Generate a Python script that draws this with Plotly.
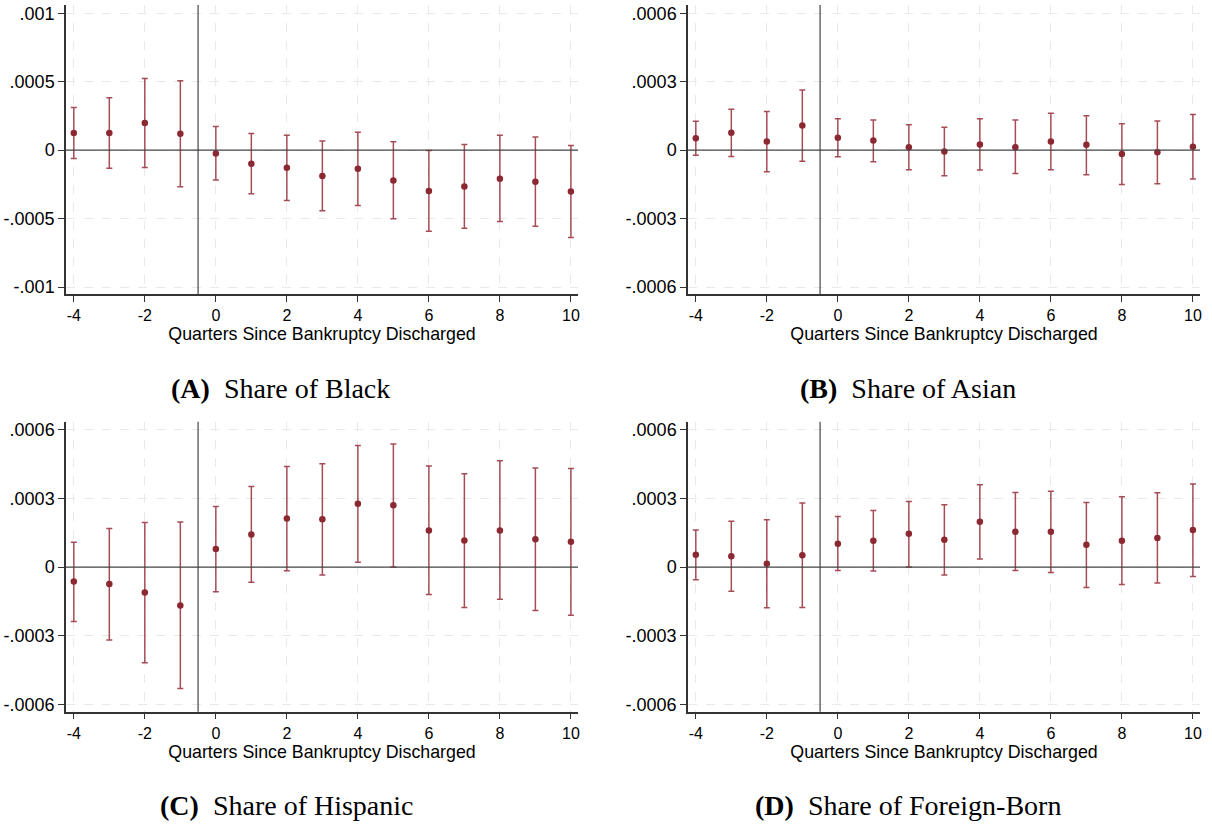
import plotly.graph_objects as go

quarters = [-4, -3, -2, -1, 0, 1, 2, 3, 4, 5, 6, 7, 8, 9, 10]

# Panel A: Share of Black (units of 1e-4)
black_coef = [1.26, 1.26, 1.99, 1.19, -0.24, -1.00, -1.29, -1.89, -1.36, -2.21, -2.99, -2.65, -2.09, -2.31, -3.03]
black_hi = [3.11, 3.83, 5.24, 5.07, 1.72, 1.21, 1.09, 0.66, 1.31, 0.61, -0.02, 0.41, 1.09, 0.97, 0.34]
black_lo = [-0.61, -1.33, -1.26, -2.67, -2.18, -3.18, -3.67, -4.42, -4.05, -5.02, -5.92, -5.70, -5.22, -5.56, -6.38]

# Panel B: Share of Asian
asian_coef = [0.52, 0.76, 0.38, 1.08, 0.54, 0.42, 0.13, -0.06, 0.25, 0.13, 0.38, 0.23, -0.17, -0.09, 0.15]
asian_hi = [1.27, 1.79, 1.69, 2.63, 1.37, 1.32, 1.11, 1.00, 1.37, 1.32, 1.62, 1.51, 1.15, 1.28, 1.56]
asian_lo = [-0.23, -0.28, -0.95, -0.49, -0.29, -0.51, -0.86, -1.12, -0.87, -1.03, -0.86, -1.08, -1.51, -1.47, -1.27]

# Panel C: Share of Hispanic
hisp_coef = [-0.63, -0.74, -1.11, -1.68, 0.79, 1.43, 2.13, 2.10, 2.77, 2.71, 1.60, 1.17, 1.60, 1.22, 1.11]
hisp_hi = [1.09, 1.69, 1.95, 1.97, 2.65, 3.53, 4.40, 4.52, 5.32, 5.38, 4.42, 4.08, 4.65, 4.34, 4.31]
hisp_lo = [-2.38, -3.18, -4.18, -5.31, -1.08, -0.66, -0.16, -0.34, 0.22, 0.01, -1.20, -1.76, -1.40, -1.90, -2.10]

# Panel D: Share of Foreign-Born
fb_coef = [0.54, 0.48, 0.15, 0.52, 1.02, 1.15, 1.46, 1.20, 1.98, 1.55, 1.55, 0.98, 1.15, 1.28, 1.62]
fb_hi = [1.63, 2.01, 2.07, 2.81, 2.22, 2.48, 2.87, 2.73, 3.60, 3.26, 3.32, 2.83, 3.08, 3.25, 3.64]
fb_lo = [-0.55, -1.05, -1.78, -1.76, -0.15, -0.17, 0.01, -0.34, 0.36, -0.15, -0.23, -0.89, -0.76, -0.69, -0.41]

captions = ["<b>(A)</b>&nbsp;&nbsp;Share of Black", "<b>(B)</b>&nbsp;&nbsp;Share of Asian",
            "<b>(C)</b>&nbsp;&nbsp;Share of Hispanic", "<b>(D)</b>&nbsp;&nbsp;Share of Foreign-Born"]
x_title = "Quarters Since Bankruptcy Discharged"
x_ticks = [-4, -2, 0, 2, 4, 6, 8, 10]
x_text = ["-4", "-2", "0", "2", "4", "6", "8", "10"]
y_ticks_a = [-0.001, -0.0005, 0, 0.0005, 0.001]
y_text_a = ["-.001", "-.0005", "0", ".0005", ".001"]
y_ticks_b = [-0.0006, -0.0003, 0, 0.0003, 0.0006]
y_text_b = ["-.0006", "-.0003", "0", ".0003", ".0006"]

panels = [
    (black_coef, black_hi, black_lo, y_ticks_a, y_text_a, [-0.0010533, 0.0010607]),
    (asian_coef, asian_hi, asian_lo, y_ticks_b, y_text_b, [-0.000632, 0.000636]),
    (hisp_coef, hisp_hi, hisp_lo, y_ticks_b, y_text_b, [-0.000632, 0.000636]),
    (fb_coef, fb_hi, fb_lo, y_ticks_b, y_text_b, [-0.000632, 0.000636]),
]

W, H = 1212, 826
xdoms = [[66 / W, 578 / W], [688 / W, 1200 / W]]
ydoms = [[1 - 294.3 / H, 1 - 5 / H], [1 - 711.7 / H, 1 - 421.7 / H]]
cap_y = [1 - 388 / H, 1 - 805 / H]
cap_x = [280 / W, 908 / W, 286 / W, 908 / W]

MARK = "rgb(140,40,50)"
BAR = "rgba(150,45,58,0.85)"
AXC = "#333333"
GRID = "#e9e9e9"

fig = go.Figure()
layout = dict(width=W, height=H, margin=dict(l=0, r=0, t=0, b=0),
              paper_bgcolor="white", plot_bgcolor="white", showlegend=False,
              font=dict(family="Liberation Sans, Arial", color="black"))
annotations = []
shapes = []
for i, (coef, hi, lo, yt, ytt, yr) in enumerate(panels):
    r, c = divmod(i, 2)
    k = "" if i == 0 else str(i + 1)
    c_ = [v * 1e-4 for v in coef]
    plus = [(h - v) * 1e-4 for h, v in zip(hi, coef)]
    minus = [(v - l) * 1e-4 for l, v in zip(lo, coef)]
    fig.add_trace(go.Scatter(
        x=quarters, y=c_, mode="markers", xaxis="x" + k, yaxis="y" + k,
        marker=dict(color=MARK, size=6.5),
        error_y=dict(type="data", symmetric=False, array=plus, arrayminus=minus,
                     color=BAR, thickness=1.5, width=3),
    ))
    layout["xaxis" + k] = dict(
        domain=xdoms[c], anchor="y" + k, range=[-4.22, 10.2],
        tickvals=x_ticks, ticktext=x_text, ticks="outside", ticklen=6, tickcolor=AXC,
        showline=True, linecolor=AXC, linewidth=1.5,
        showgrid=True, gridcolor=GRID, griddash="dash", gridwidth=1,
        zeroline=False, tickfont=dict(size=16), automargin=False,
        title=dict(text=x_title, font=dict(size=17.8), standoff=4),
    )
    layout["yaxis" + k] = dict(
        domain=ydoms[r], anchor="x" + k, range=yr,
        tickvals=yt, ticktext=ytt, ticks="outside", ticklen=6, tickcolor=AXC,
        showline=True, linecolor=AXC, linewidth=1.5,
        showgrid=True, gridcolor=GRID, griddash="dash", gridwidth=1,
        zeroline=False, tickfont=dict(size=18), automargin=False,
    )
    shapes.append(dict(type="line", xref="x" + k + " domain", yref="y" + k,
                       x0=0, x1=1, y0=0, y1=0, line=dict(color="#444444", width=1.2)))
    shapes.append(dict(type="line", xref="x" + k, yref="y" + k + " domain",
                       x0=-0.5, x1=-0.5, y0=0, y1=1, line=dict(color="#444444", width=1.2)))
    annotations.append(dict(
        text=captions[i], xref="paper", yref="paper",
        x=cap_x[i], y=cap_y[r],
        xanchor="center", yanchor="middle", showarrow=False,
        font=dict(family="Liberation Serif, Times New Roman", size=28, color="black"),
    ))
layout["annotations"] = annotations
layout["shapes"] = shapes
fig.update_layout(**layout)
fig.write_html("out.html")
